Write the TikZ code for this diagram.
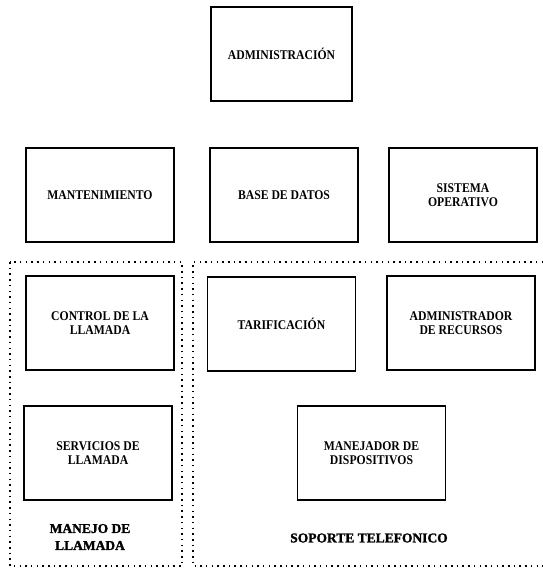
\documentclass[tikz,border=0pt]{standalone}
\usepackage{fontspec}
\setmainfont{Liberation Serif}
\newfontfamily\cuadrofont[FakeStretch=0.88]{Liberation Serif}
\newfontfamily\titulofont[FakeBold=1.6]{Liberation Serif Bold}

\begin{document}
\begin{tikzpicture}[x=1pt, y=-1pt]
        \tikzstyle{every node}=[draw, line width=1.4pt, minimum width=148pt, minimum height=94pt,
                                align=center, font=\cuadrofont\fontsize{13.3}{14.5}\selectfont\bfseries]
        \tikzstyle{grupo}=[line width=1.5pt, dash pattern=on 1.5pt off 4.2pt]
        \tikzstyle{titulo}=[draw=none, minimum width=0pt, minimum height=0pt,
                            font=\titulofont\fontsize{13.5}{17}\selectfont]

        \useasboundingbox (0,0) rectangle (543,570);

        % fila superior
        \node (admin)    [minimum width=141pt] at (281.5,54)  {ADMINISTRACIÓN};
        \node (mant)     at (100,195)   {MANTENIMIENTO};
        \node (bd)       at (284,195)   {BASE DE DATOS};
        \node (so)       at (463,195)   {SISTEMA\\OPERATIVO};

        % manejo de llamada
        \node (ctrl)     at (100,323)   {CONTROL DE LA\\LLAMADA};
        \node (serv)     at (98,453)    {SERVICIOS DE\\LLAMADA};
        \node (manejo)   [titulo] at (90,537) {MANEJO DE\\LLAMADA};

        % soporte telefonico
        \node (tarif)    at (281.5,324) {TARIFICACIÓN};
        \node (recursos) at (461,323)   {ADMINISTRADOR\\DE RECURSOS};
        \node (disp)     at (371.5,453) {MANEJADOR DE\\DISPOSITIVOS};
        \node (soporte)  [titulo] at (369,538) {SOPORTE TELEFONICO};

        \draw[grupo] (10,262) rectangle (182,566);
        \draw[grupo] (543,262) -- (193,262) -- (193,566) -- (543,566);

    \end{tikzpicture}
\end{document}
